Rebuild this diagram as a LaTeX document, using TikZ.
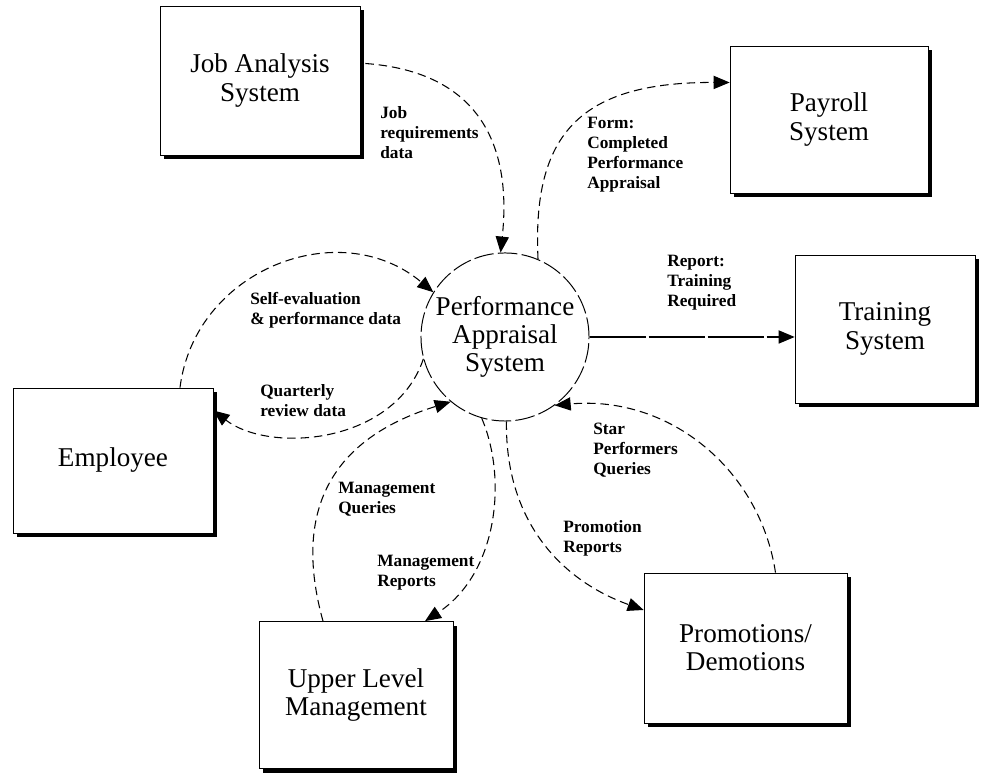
\documentclass[tikz,border=0pt]{standalone}
\usepackage{fontspec}
\setmainfont{Liberation Serif}
\usetikzlibrary{arrows.meta, positioning, calc, shadows}
\tikzset{
  sysbox/.style={draw, line width=0.5pt, fill=white, align=center, inner sep=2pt,
    font=\fontsize{19.3}{20}\selectfont,
    drop shadow={shadow xshift=1.05mm, shadow yshift=-1.05mm, opacity=1, fill=black}},
  procircle/.style={circle, draw, line width=0.7pt, dash pattern=on 14pt off 3pt,
    minimum size=4.2cm, inner sep=0pt, align=center, font=\fontsize{19.3}{20}\selectfont},
  flowlbl/.style={anchor=west, inner sep=0pt, align=left,
    font=\fontsize{12.3}{14.2}\selectfont\bfseries},
  flow/.style={line width=0.75pt, dash pattern=on 6pt off 3.5pt,
    -{Triangle[length=4mm, width=3.3mm]}},
}

\begin{document}
\begin{tikzpicture}[x=0.025cm, y=0.025cm]
  \useasboundingbox[fill=white] (0,0) rectangle (981,774);

  % external entities
  \node[sysbox, minimum width=5cm, minimum height=3.725cm] (jobsys) at (260,693.5) {Job Analysis\\System};
  \node[sysbox, minimum width=4.95cm, minimum height=3.675cm] (payroll) at (829,654.5) {Payroll\\System};
  \node[sysbox, minimum width=4.5cm, minimum height=3.7cm] (training) at (885,445) {Training\\System};
  \node[sysbox, minimum width=5cm, minimum height=3.625cm] (employee) at (113,313.5) {Employee};
  \node[sysbox, minimum width=4.85cm, minimum height=3.675cm] (upper) at (356,79) {Upper Level\\Management};
  \node[sysbox, minimum width=5.075cm, minimum height=3.75cm] (promo) at (745.5,126) {Promotions/\\Demotions};

  % the process
  \node[procircle] (pas) at (505,437) {Performance\\Appraisal\\System};

  % data flows
  \draw[flow] ($(jobsys.east)+(5,17)$) .. controls (480,702) and (512,628) .. (pas.93);
  \draw[flow] (pas.67) .. controls (532,640) and (580,692) .. ($(payroll.west)+(0,37)$);
  \draw[flow, dash pattern=on 40pt off 2pt] (pas.east) -- (pas.east -| training.west);
  \draw[flow] ($(promo.north)+(30,0)$) .. controls (760,304) and (670,379) .. (pas.-54);
  \draw[flow] (pas.-89) .. controls (505,254) and (560,194) .. ($(promo.west)+(0,38)$);
  \draw[flow] (pas.-106) .. controls (508,294) and (497,200) .. ($(upper.north)+(69,0)$);
  \draw[flow] ($(upper.north)+(-33,0)$) .. controls (285,290) and (360,344) .. (pas.-130);
  \draw[flow] (pas.195) .. controls (395,330) and (270,320) .. ($(employee.east)+(0,50)$);
  \draw[flow] ($(employee.north)+(67,0)$) .. controls (195,505) and (340,560) .. (pas.148);

  % flow labels
  \node[flowlbl] (jobreq) at (380,641) {Job\\requirements\\data};
  \node[flowlbl] (formlbl) at (587,619) {Form:\\Completed\\Performance\\Appraisal};
  \node[flowlbl] (trainlbl) at (667,491) {Report:\\Training\\Required};
  \node[flowlbl] (selflbl) at (250,464) {Self-evaluation\\\& performance data};
  \node[flowlbl] (quartlbl) at (260,373) {Quarterly\\review data};
  \node[flowlbl] (mqlbl) at (338,275) {Management\\Queries};
  \node[flowlbl] (mrlbl) at (377,201) {Management\\Reports};
  \node[flowlbl] (starlbl) at (593,324) {Star\\Performers\\Queries};
  \node[flowlbl] (promlbl) at (563,236) {Promotion\\Reports};
\end{tikzpicture}
\end{document}
